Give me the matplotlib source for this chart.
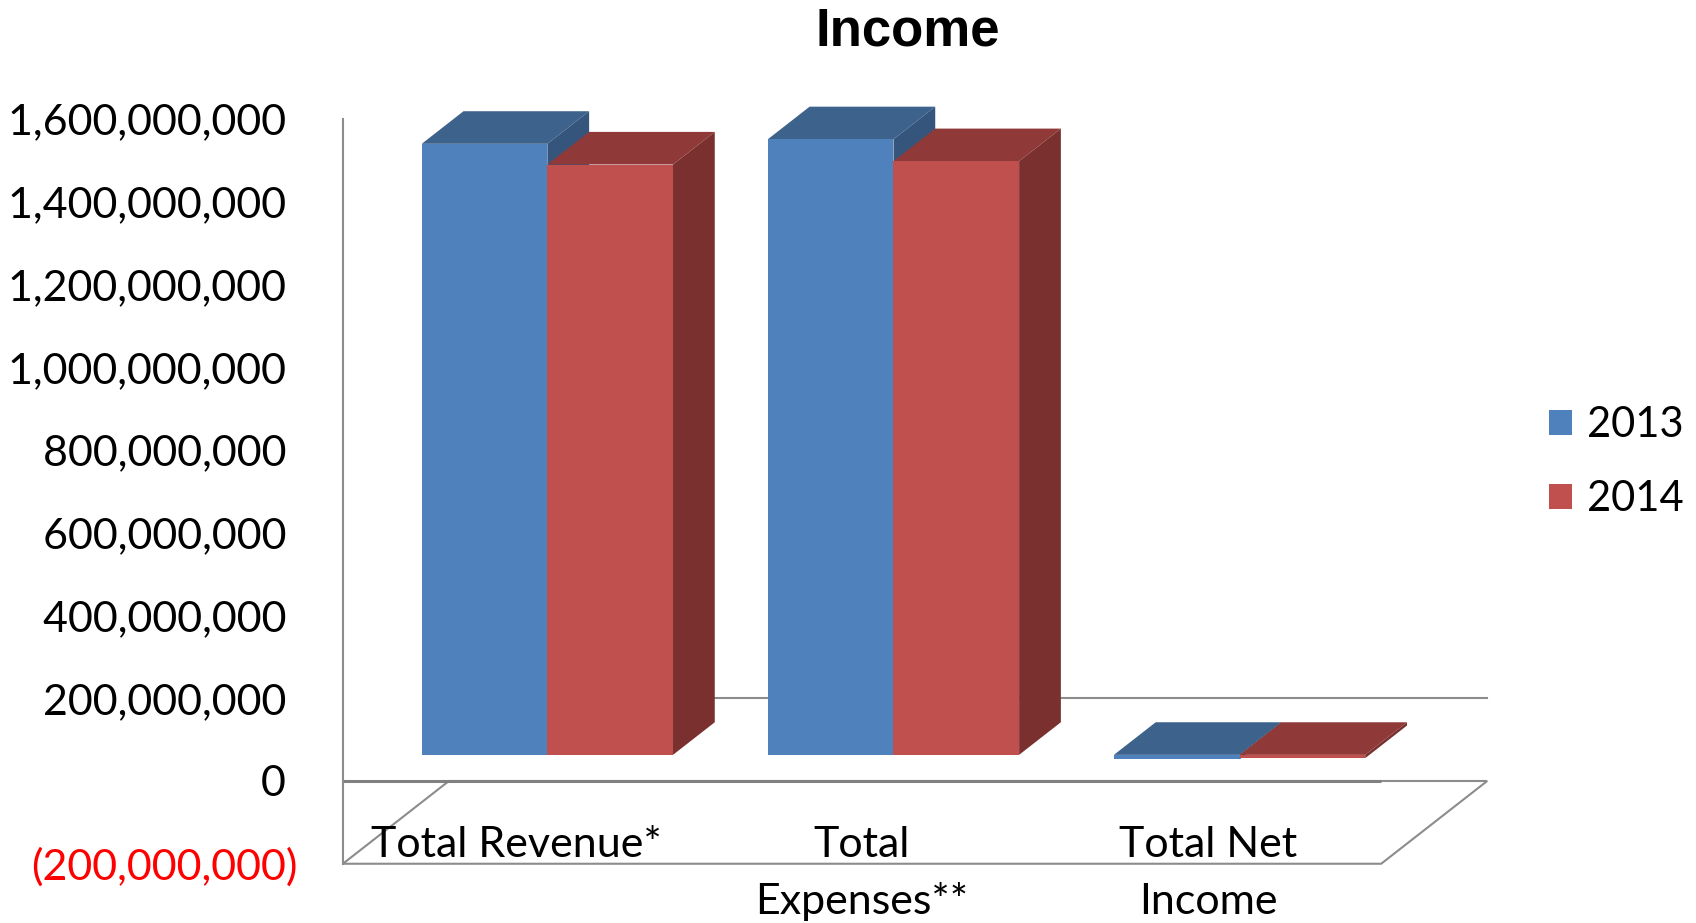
import matplotlib
matplotlib.use("Agg")
import matplotlib.pyplot as plt
from matplotlib.patches import Polygon, Patch
from matplotlib.ticker import FuncFormatter

# ---------------- data ----------------
categories = ["Total Revenue*", "Total\nExpenses**", "Total Net\nIncome"]
series_names = ["2013", "2014"]
values_2013 = [1477e6, 1488e6, -11e6]
values_2014 = [1427e6, 1435e6, -8e6]
yticks = [-200e6, 0, 200e6, 400e6, 600e6, 800e6, 1000e6, 1200e6, 1400e6, 1600e6]

# ---------------- style ----------------
FONT = ["Lato", "DejaVu Sans"]
front_cols = ["#4F81BD", "#C0504D"]
top_cols = ["#3D628C", "#8F3A38"]
side_cols = ["#35557D", "#7A302E"]
GRAY = "#8C8C8C"

W, H = 1696, 923
fig = plt.figure(figsize=(W / 100, H / 100), dpi=100)
left_px = 342.9
cat_px = 346.1
zero_px = 781.0
px_per_val = 82.74 / 200e6

ax = fig.add_axes([left_px / W, 0, 1 - left_px / W, 1])
ax.set_xlim(-0.5, -0.5 + (W - left_px) / cat_px)
ax.set_ylim(-(H - zero_px) / px_per_val, zero_px / px_per_val)

DX = 106 / cat_px      # full depth offset in x units
DY = 200e6             # full depth offset in value units
f0, f1 = 0.316, 0.71   # bar depth position
w = 0.363              # bar width
shift = -0.006         # small horizontal offset of the bar pair
n = len(categories)

# floor
floor = Polygon([(-0.5, -DY), (n - 0.5, -DY), (n - 0.5 + DX, 0), (-0.5 + DX, 0)],
                closed=True, facecolor="white", edgecolor=GRAY, lw=1.5, zorder=1)
ax.add_patch(floor)
# front-plane zero line
ax.plot([-0.5, n - 0.5], [0, 0], color="#808080", lw=2.2, zorder=1.5, solid_capstyle="butt")
# back wall zero line
ax.plot([-0.5 + DX, n - 0.5 + DX], [DY, DY], color=GRAY, lw=1.5, zorder=1.2)

# bars
for s, vals in enumerate([values_2013, values_2014]):
    xs = [i - w + s * w + shift for i in range(n)]
    ax.bar([x + f0 * DX for x in xs], vals, width=w, bottom=f0 * DY, align="edge",
           color=front_cols[s], linewidth=0, zorder=3.1 + s)
    for x0, v in zip(xs, vals):
        top = max(v, 0)
        bot = min(v, 0)
        ax.add_patch(Polygon([(x0 + f0 * DX, top + f0 * DY), (x0 + w + f0 * DX, top + f0 * DY),
                              (x0 + w + f1 * DX, top + f1 * DY), (x0 + f1 * DX, top + f1 * DY)],
                             closed=True, facecolor=top_cols[s], edgecolor="none", zorder=3 + s))
        ax.add_patch(Polygon([(x0 + w + f0 * DX, bot + f0 * DY), (x0 + w + f1 * DX, bot + f1 * DY),
                              (x0 + w + f1 * DX, top + f1 * DY), (x0 + w + f0 * DX, top + f0 * DY)],
                             closed=True, facecolor=side_cols[s], edgecolor="none", zorder=3 + s))

# axes styling
for sp in ["top", "right", "bottom"]:
    ax.spines[sp].set_visible(False)
ax.spines["left"].set_bounds(yticks[0], yticks[-1])
ax.spines["left"].set_color(GRAY)
ax.spines["left"].set_linewidth(1.5)
ax.set_xticks([])
ax.set_yticks(yticks)


def fmt(v, pos):
    if v < 0:
        return "({:,.0f})".format(abs(v))
    return "{:,.0f} ".format(v)


ax.yaxis.set_major_formatter(FuncFormatter(fmt))
ax.tick_params(axis="y", length=0, pad=33, labelsize=31)
for tk in ax.yaxis.get_major_ticks():
    tk.label1.set_family(FONT)
ax.yaxis.get_major_ticks()[0].label1.set_color("#FF0000")

# category labels (placed on the floor front)
line_base = [-183.7e6, -321.5e6]
for i, lab in enumerate(categories):
    for k, line in enumerate(lab.split("\n")):
        ax.text(i, line_base[k], line, ha="center", va="baseline", fontsize=31,
                family=FONT, color="black", zorder=6)

# title
fig.text(908 / W, 1 - 32 / H, "Income", ha="center", va="center", fontsize=38,
         fontweight="bold", family=["Liberation Sans", "DejaVu Sans"])

# legend
handles = [Patch(facecolor=front_cols[s], edgecolor="none") for s in range(2)]
fig.legend(handles, series_names, loc="center left", bbox_to_anchor=(1549 / W, 1 - 462 / H),
           frameon=False, prop={"family": FONT, "size": 30}, handlelength=0.55,
           handleheight=0.55, handletextpad=0.36, labelspacing=0.86,
           borderpad=0, borderaxespad=0)

fig.savefig("out.png", dpi=100)
